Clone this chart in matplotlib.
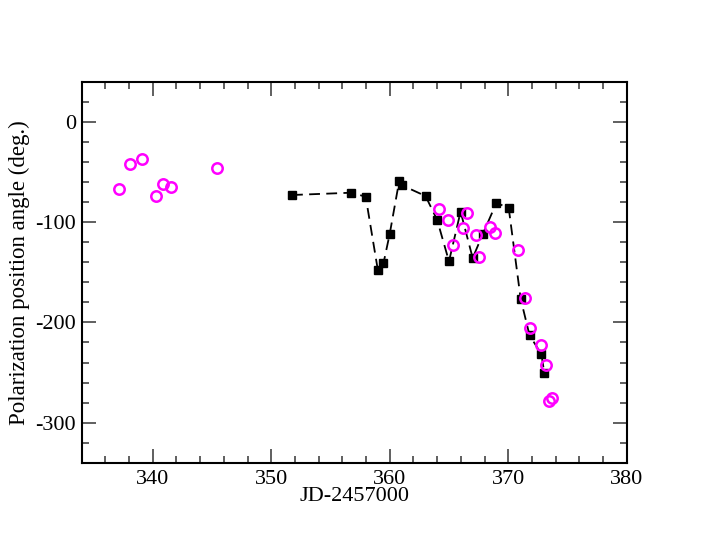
import matplotlib
matplotlib.use("Agg")
import matplotlib.pyplot as plt
from matplotlib.ticker import MultipleLocator

# black squares joined by dashed line
jd_sq = [351.75, 356.76, 357.97, 359.0, 359.47, 360.0, 360.8, 361.0, 363.02,
         364.0, 365.0, 365.98, 367.0, 367.84, 369.0, 370.04, 371.05, 371.8,
         372.8, 373.05]
pa_sq = [-72.8, -70.5, -74.5, -148.0, -141.0, -111.5, -58.6, -62.9, -73.8,
         -97.6, -139.0, -89.4, -135.7, -112.2, -80.7, -85.7, -176.4, -212.8,
         -231.7, -250.8]

# magenta open circles
jd_ci = [337.15, 338.1, 339.1, 340.3, 340.9, 341.5, 345.4, 364.15, 364.94,
         365.36, 366.15, 366.5, 367.3, 367.5, 368.5, 368.85, 370.85, 371.4,
         371.8, 372.8, 373.2, 373.47, 373.7]
pa_ci = [-66.8, -41.7, -37.0, -74.0, -61.6, -64.8, -46.3, -87.0, -97.3,
         -122.8, -105.6, -90.4, -112.5, -134.4, -104.3, -111.2, -127.4, -176.0,
         -205.5, -222.7, -242.3, -278.0, -275.7]

plt.rcParams['font.family'] = ['Liberation Serif', 'DejaVu Serif']
plt.rcParams['axes.unicode_minus'] = False

fig = plt.figure(figsize=(7.05, 5.45), dpi=100)
ax = fig.add_axes([81.7 / 705, 1 - 462.7 / 545, 545 / 705, 380.7 / 545])

ax.plot(jd_sq, pa_sq, color='black', ls=(0, (6, 3.5)), lw=1.3,
        marker='s', ms=5.5, mfc='black', mec='black')
ax.plot(jd_ci, pa_ci, ls='none', marker='o', ms=7.5, mfc='none',
        mec='#ff00ff', mew=1.8)

ax.set_xlim(334, 380)
ax.set_ylim(-340, 40)
ax.xaxis.set_major_locator(MultipleLocator(10))
ax.xaxis.set_minor_locator(MultipleLocator(2))
ax.yaxis.set_major_locator(MultipleLocator(100))
ax.yaxis.set_minor_locator(MultipleLocator(20))
ax.tick_params(which='both', direction='in', top=True, right=True,
               labelsize=16, width=1.2, color='#444444')
ax.tick_params(which='major', length=10)
ax.tick_params(which='minor', length=5)
ax.tick_params(axis='x', which='major', pad=5)
ax.tick_params(axis='y', which='major', pad=4)
for s in ax.spines.values():
    s.set_linewidth(1.5)

ax.set_xlabel('JD-2457000', fontsize=16, labelpad=-1)
ax.set_ylabel('Polarization position angle (deg.)', fontsize=16.5, labelpad=4)

fig.savefig('out.png', dpi=100)
